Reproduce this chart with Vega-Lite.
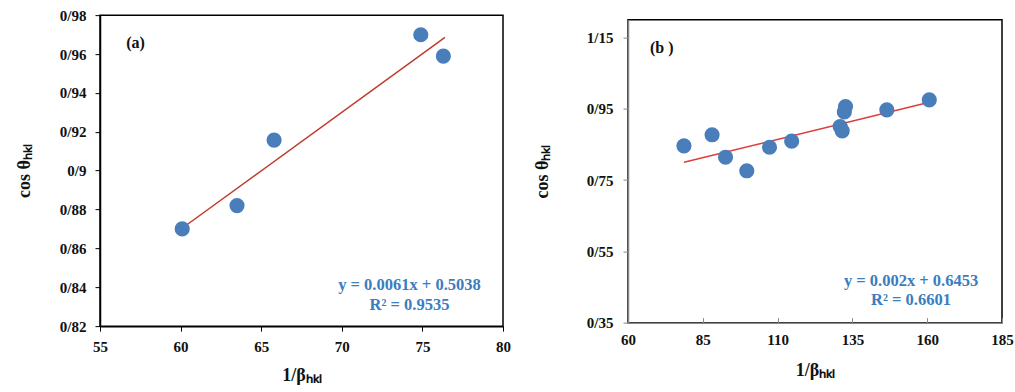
{
  "$schema": "https://vega.github.io/schema/vega-lite/v6.json",
  "background": "white",
  "padding": {"left": 14, "top": 7, "right": 5, "bottom": 5},
  "spacing": 20,
  "center": true,
  "config": {
    "font": "Liberation Serif",
    "view": {"stroke": "black", "strokeWidth": 1.5}
  },
  "datasets": {
    "a": [
      {"x": 60.1, "y": 0.870},
      {"x": 63.5, "y": 0.882},
      {"x": 65.8, "y": 0.9157},
      {"x": 74.9, "y": 0.9699},
      {"x": 76.3, "y": 0.9589}
    ],
    "aTrend": [
      {"x": 60.2, "y": 0.8710},
      {"x": 76.4, "y": 0.9685}
    ],
    "b": [
      {"x": 78.7, "y": 0.846},
      {"x": 88.1, "y": 0.877},
      {"x": 92.6, "y": 0.814},
      {"x": 99.7, "y": 0.776},
      {"x": 107.3, "y": 0.842},
      {"x": 114.7, "y": 0.859},
      {"x": 130.9, "y": 0.900},
      {"x": 131.6, "y": 0.888},
      {"x": 132.3, "y": 0.941},
      {"x": 132.7, "y": 0.956},
      {"x": 146.5, "y": 0.947},
      {"x": 160.7, "y": 0.975}
    ],
    "bTrend": [
      {"x": 78.7, "y": 0.800},
      {"x": 160.7, "y": 0.968}
    ],
    "one": [{"k": 1}]
  },
  "hconcat": [
    {
      "width": 403,
      "height": 311,
      "layer": [
        {
          "data": {"name": "aTrend"},
          "mark": {"type": "line", "color": "#C0392B", "strokeWidth": 1.5},
          "encoding": {
            "x": {"field": "x", "type": "quantitative", "scale": {"domain": [55, 80], "nice": false, "zero": false},
                  "axis": {"values": [55, 60, 65, 70, 75, 80], "title": "1/βₕₖₗ", "grid": false, "tickSize": 5,
                           "labelFont": "Liberation Serif", "labelFontWeight": "bold", "labelFontSize": 15, "labelColor": "#111", "labelOverlap": false, "labelFlush": false,
                           "titleFont": "Liberation Serif", "titleFontWeight": "bold", "titleFontSize": 18, "titleColor": "#111",
                           "labelPadding": 8, "titlePadding": 12, "domainColor": "black", "tickColor": "black", "domainWidth": 1.5}},
            "y": {"field": "y", "type": "quantitative", "scale": {"domain": [0.82, 0.98], "nice": false, "zero": false},
                  "axis": {"tickCount": 8, "title": "cos θₕₖₗ", "grid": false, "tickSize": 5,
                           "labelFont": "Liberation Serif", "labelFontWeight": "bold", "labelFontSize": 15, "labelColor": "#111", "labelOverlap": false, "labelSeparation": 0, "labelFlush": false,
                           "titleFont": "Liberation Serif", "titleFontWeight": "bold", "titleFontSize": 18, "titleColor": "#111",
                           "labelExpr": "replace(format(datum.value, '.2~f'), '.', '/')", "labelPadding": 9, "titlePadding": 26, "domainColor": "black", "tickColor": "black", "domainWidth": 1.5}}
          }
        },
        {
          "data": {"name": "a"},
          "mark": {"type": "circle", "color": "#4A7EBB", "opacity": 1, "size": 230},
          "encoding": {
            "x": {"field": "x", "type": "quantitative"},
            "y": {"field": "y", "type": "quantitative"}
          }
        },
        {
          "data": {"name": "one"},
          "mark": {"type": "text", "text": "(a)", "fontWeight": "bold", "fontSize": 16, "color": "#111"},
          "encoding": {"x": {"datum": 57.2}, "y": {"datum": 0.9656}}
        },
        {
          "data": {"name": "one"},
          "mark": {"type": "text", "text": ["y = 0.0061x + 0.5038", "R² = 0.9535"], "fontWeight": "bold", "fontSize": 16.5, "color": "#3A7DC0", "align": "center", "baseline": "middle", "lineHeight": 20},
          "encoding": {"x": {"datum": 74.2}, "y": {"datum": 0.8411}}
        }
      ]
    },
    {
      "width": 374,
      "height": 303,
      "layer": [
        {
          "data": {"name": "bTrend"},
          "mark": {"type": "line", "color": "#E03A3A", "strokeWidth": 1.5},
          "encoding": {
            "x": {"field": "x", "type": "quantitative", "scale": {"domain": [60, 185], "nice": false, "zero": false},
                  "axis": {"values": [60, 85, 110, 135, 160, 185], "title": "1/βₕₖₗ", "grid": false, "tickSize": -5,
                           "labelFont": "Liberation Serif", "labelFontWeight": "bold", "labelFontSize": 15, "labelColor": "#111", "labelOverlap": false, "labelFlush": false,
                           "titleFont": "Liberation Serif", "titleFontWeight": "bold", "titleFontSize": 18, "titleColor": "#111",
                           "labelPadding": 15, "titlePadding": 14, "domainColor": "#888", "tickColor": "#888", "domainWidth": 1.5}},
            "y": {"field": "y", "type": "quantitative", "scale": {"domain": [0.35, 1.2], "nice": false, "zero": false},
                  "axis": {"values": [0.35, 0.55, 0.75, 0.95, 1.15], "title": "cos θₕₖₗ", "grid": false, "tickSize": 5,
                           "labelFont": "Liberation Serif", "labelFontWeight": "bold", "labelFontSize": 15, "labelColor": "#111", "labelOverlap": false, "labelFlush": false,
                           "titleFont": "Liberation Serif", "titleFontWeight": "bold", "titleFontSize": 18, "titleColor": "#111",
                           "labelExpr": "replace(format(datum.value, '.2~f'), '.', '/')", "labelPadding": 10, "titlePadding": 35, "domainColor": "#888", "tickColor": "#888", "domainWidth": 1.5}}
          }
        },
        {
          "data": {"name": "b"},
          "mark": {"type": "circle", "color": "#4A7EBB", "opacity": 1, "size": 230},
          "encoding": {
            "x": {"field": "x", "type": "quantitative"},
            "y": {"field": "y", "type": "quantitative"}
          }
        },
        {
          "data": {"name": "one"},
          "mark": {"type": "text", "text": "(b )", "fontWeight": "bold", "fontSize": 16, "color": "#111"},
          "encoding": {"x": {"datum": 71.3}, "y": {"datum": 1.12}}
        },
        {
          "data": {"name": "one"},
          "mark": {"type": "text", "text": ["y = 0.002x + 0.6453", "R² = 0.6601"], "fontWeight": "bold", "fontSize": 16.5, "color": "#3A7DC0", "align": "center", "baseline": "middle", "lineHeight": 19},
          "encoding": {"x": {"datum": 154.6}, "y": {"datum": 0.466}}
        }
      ]
    }
  ]
}
